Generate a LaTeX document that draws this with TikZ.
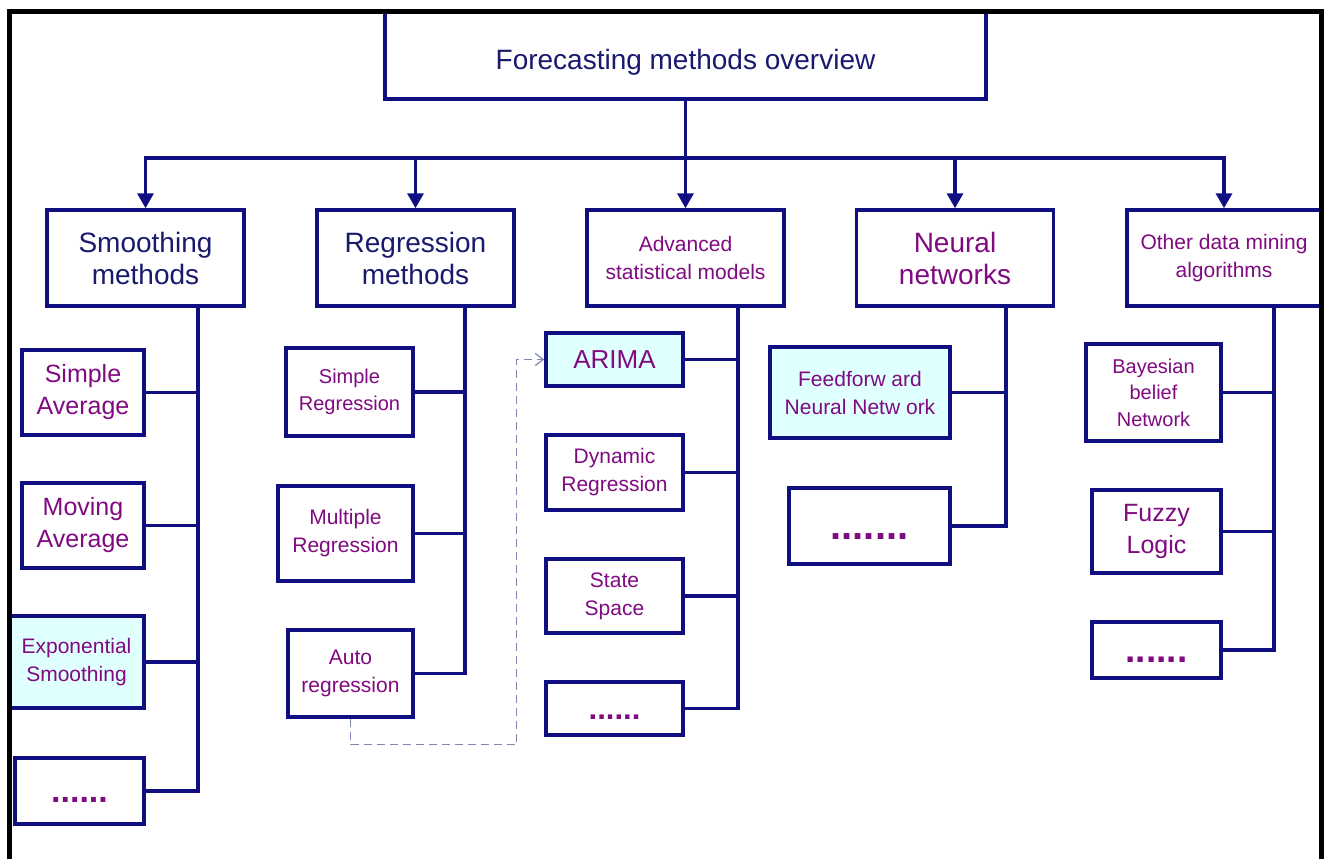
\documentclass[tikz,border=0pt]{standalone}
\usepackage{fontspec}
\setmainfont{Liberation Sans}
\usepackage{xcolor}
\usetikzlibrary{arrows.meta}

\definecolor{boxnavy}{RGB}{15,15,130}
\definecolor{txtnavy}{RGB}{25,25,110}
\definecolor{txtpurple}{RGB}{128,10,128}
\definecolor{boxcyan}{RGB}{224,255,255}
\definecolor{dashblue}{RGB}{125,135,175}

\tikzset{
    box/.style={draw=boxnavy, fill=white, line width=3.5pt, inner sep=0pt, align=center, text=txtpurple},
    lvl/.style={box, minimum width=197pt, minimum height=96pt},
    hl/.style={fill=boxcyan},
    bigtxt/.style={font=\fontsize{28}{32}\selectfont},
    midtxt/.style={font=\fontsize{25}{32}\selectfont},
    smalltxt/.style={font=\fontsize{21}{28}\selectfont},
    tinytxt/.style={font=\fontsize{20}{26.5}\selectfont},
    dotstxt/.style={font=\bfseries\fontsize{#1}{#1}\selectfont},
    conn/.style={draw=boxnavy, line width=3.5pt},
    down/.style={conn, -{Triangle[width=16pt,length=15pt]}},
    dashlink/.style={draw=dashblue, line width=1.2pt, dash pattern=on 8pt off 5pt, -{Straight Barb[width=12pt,length=8pt]}}
}

\begin{document}
\begin{tikzpicture}[x=1pt,y=-1pt]
        \useasboundingbox (0,0) rectangle (1330,859);

        \node[box, bigtxt, text=txtnavy, text height=34pt, minimum width=601pt, minimum height=87.5pt] (top) at (685.5,55.25) {Forecasting methods overview};

        \node[lvl, bigtxt, text=txtnavy] (smooth) at (145.5,258) {Smoothing\\methods};
        \node[lvl, bigtxt, text=txtnavy] (regr) at (415.5,258) {Regression\\methods};
        \node[lvl, smalltxt] (adv) at (685.5,258) {Advanced\\statistical models};
        \node[lvl, bigtxt] (neural) at (955,258) {Neural\\networks};
        \node[lvl, smalltxt, minimum width=194pt] (other) at (1224,258) {Other data mining\\algorithms};

        \node[box, midtxt, minimum width=122pt, minimum height=85pt] (sa) at (83,392.5) {Simple\\Average};
        \node[box, midtxt, minimum width=122pt, minimum height=85pt] (ma) at (83,525.5) {Moving\\Average};
        \node[box, hl, smalltxt, minimum width=135pt, minimum height=92pt] (es) at (76.5,662) {Exponential\\Smoothing};
        \node[box, dotstxt=34, minimum width=129pt, minimum height=66pt] (sdots) at (79.5,791) {\vphantom{A}......};

        \node[box, tinytxt, minimum width=127pt, minimum height=88pt] (sr) at (349.5,392) {Simple\\Regression};
        \node[box, smalltxt, minimum width=135pt, minimum height=95pt] (mr) at (345.5,533.5) {Multiple\\Regression};
        \node[box, smalltxt, minimum width=125pt, minimum height=87pt] (ar) at (350.5,673.5) {Auto\\regression};

        \node[box, hl, font=\fontsize{26}{30}\selectfont, minimum width=137pt, minimum height=53pt] (arima) at (614.5,359.5) {ARIMA};
        \node[box, smalltxt, minimum width=137pt, minimum height=75pt] (dyn) at (614.5,472.5) {Dynamic\\Regression};
        \node[box, smalltxt, minimum width=137pt, minimum height=74pt] (ss) at (614.5,596) {State\\Space};
        \node[box, dotstxt=31, minimum width=137pt, minimum height=53pt] (adots) at (614.5,708.5) {\vphantom{A}......};

        \node[box, hl, smalltxt, minimum width=180pt, minimum height=91pt] (ff) at (860,392.5) {Feedforw ard\\Neural Netw ork};
        \node[box, dotstxt=40, minimum width=161pt, minimum height=76pt] (ndots) at (869.5,526) {\vphantom{A}.......};

        \node[box, tinytxt, minimum width=135pt, minimum height=97pt] (bay) at (1153.5,392.5) {Bayesian\\belief\\Network};
        \node[box, midtxt, minimum width=129pt, minimum height=83pt] (fz) at (1156.5,531.5) {Fuzzy\\Logic};
        \node[box, dotstxt=37, minimum width=129pt, minimum height=56pt] (odots) at (1156.5,650) {\vphantom{A}......};

        \draw[down] (top.south) -- ++(0,57) -| (smooth.north);
        \draw[down] (top.south) -- ++(0,57) -| (regr.north);
        \draw[down] (top.south) -- ++(0,57) -| (adv.north);
        \draw[down] (top.south) -- ++(0,57) -| (neural.north);
        \draw[down] (top.south) -- ++(0,57) -| (other.north);

        \draw[conn] ([xshift=-47.75pt]smooth.south east) |- (sa.east);
        \draw[conn] ([xshift=-47.75pt]smooth.south east) |- (ma.east);
        \draw[conn] ([xshift=-47.75pt]smooth.south east) |- (es.east);
        \draw[conn] ([xshift=-47.75pt]smooth.south east) |- (sdots.east);

        \draw[conn] ([xshift=-50.75pt]regr.south east) |- (sr.east);
        \draw[conn] ([xshift=-50.75pt]regr.south east) |- (mr.east);
        \draw[conn] ([xshift=-50.75pt]regr.south east) |- (ar.east);

        \draw[conn] ([xshift=-47.75pt]adv.south east) |- (arima.east);
        \draw[conn] ([xshift=-47.75pt]adv.south east) |- (dyn.east);
        \draw[conn] ([xshift=-47.75pt]adv.south east) |- (ss.east);
        \draw[conn] ([xshift=-47.75pt]adv.south east) |- (adots.east);

        \draw[conn] ([xshift=-49.25pt]neural.south east) |- (ff.east);
        \draw[conn] ([xshift=-49.25pt]neural.south east) |- (ndots.east);

        \draw[conn] ([xshift=-48.75pt]other.south east) |- (bay.east);
        \draw[conn] ([xshift=-48.75pt]other.south east) |- (fz.east);
        \draw[conn] ([xshift=-48.75pt]other.south east) |- (odots.east);

        \draw[dashlink] (ar.south) -- ++(0,26) -| ([xshift=-28pt]arima.west) -- (arima.west);

        \draw[black, line width=5pt] (9.5,859) -- (9.5,11.5) -- (1321,11.5) -- (1321,859);
    \end{tikzpicture}
\end{document}
